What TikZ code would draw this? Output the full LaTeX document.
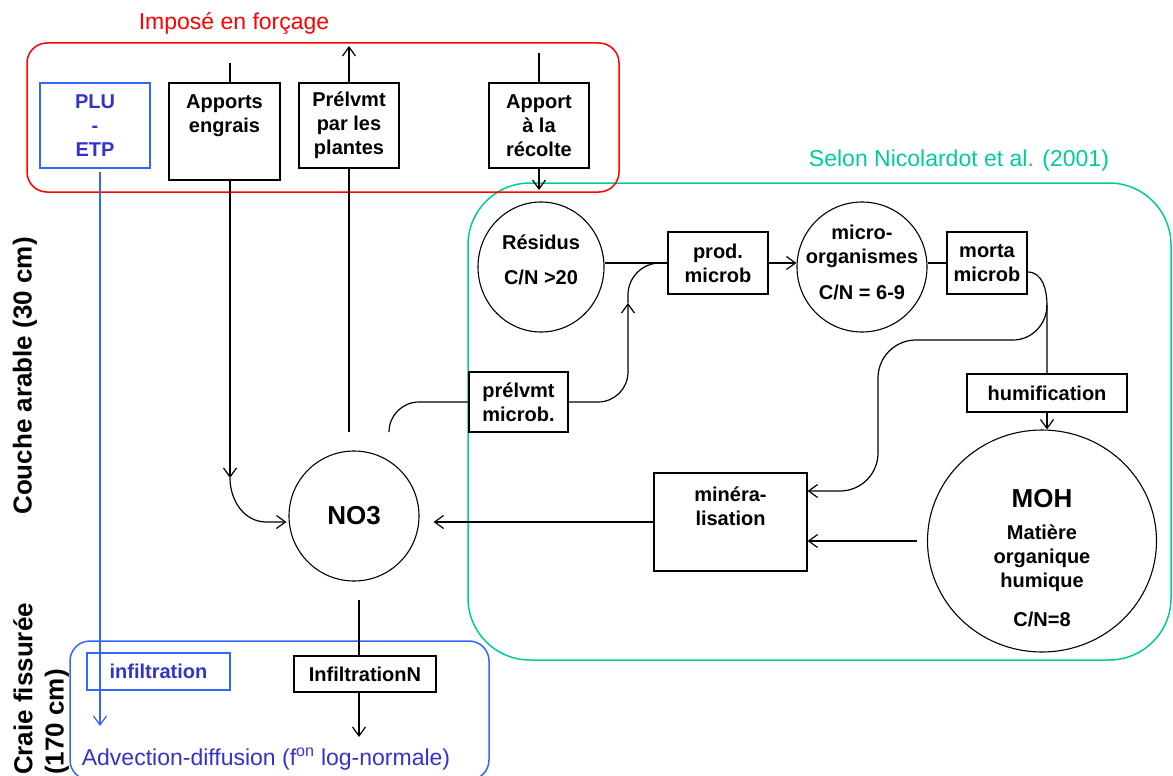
\documentclass[tikz,border=0pt]{standalone}
\usepackage{fontspec}
\setmainfont{Liberation Sans}
\usetikzlibrary{arrows.meta,shapes.geometric,calc}
\definecolor{fred}{RGB}{255,0,0}
\definecolor{fgreen}{RGB}{0,204,153}
\definecolor{fblue}{RGB}{51,102,255}
\definecolor{ftxtblue}{RGB}{51,51,204}
\begin{document}
\begin{tikzpicture}[x=1pt,y=-1pt,
  >={Straight Barb[length=9pt,width=13pt]},
  every node/.style={inner sep=0pt},
  bfont/.style={font=\bfseries\fontsize{20}{24}\selectfont},
  bx/.style={draw, line width=1.2pt, rectangle, align=center, bfont},
  bluebx/.style={draw=fblue, line width=1.2pt, rectangle, align=center, text=ftxtblue, bfont},
  circ/.style={draw, ellipse, line width=1.1pt},
  lbl/.style={align=center, bfont},
  conn/.style={line width=1.2pt},
  frame/.style={line width=1.5pt, rounded corners=20pt},
  side/.style={rotate=90, font=\bfseries\fontsize{26}{30}\selectfont},
  reg/.style={font=\fontsize{23}{28}\selectfont}
]
\useasboundingbox (0,0) rectangle (1173,776);

% frames
\draw[fgreen, line width=1.5pt, rounded corners=62pt] (468,183) rectangle (1171,660);
\draw[fred, frame] (27,43) rectangle (619,192);
\draw[fblue, frame] (70,641) rectangle (489,780);

% labels
\node[reg, text=fred] (titre) at (234,23) {Imposé en forçage};
\node[reg, text=fgreen] (selon) at (959,161) {Selon Nicolardot et al. (2001)};
\node[reg, text=ftxtblue] (adv) at (266,759) {Advection-diffusion (f\textsuperscript{on} log-normale)};
\node[side] (couche) at (25,376) {Couche arable (30 cm)};
\node[side] (craie) at (23,689) {Craie fissurée};
\node[side] (cm170) at (57,722) {(170 cm)};

% top boxes
\node[bluebx, minimum width=110pt, minimum height=85pt] (plu) at (95,125.5) {PLU\\-\\ETP};
\node[bx, minimum width=111pt, minimum height=97pt] (apports) at (224.5,131.5) {};
\node[lbl] (apportsT) at (224.5,116) {Apports\\engrais};
\node[bx, minimum width=100pt, minimum height=85pt] (prel) at (349,125.5) {Prélvmt\\par les\\plantes};
\node[bx, minimum width=100pt, minimum height=85pt] (apport) at (539,125.5) {Apport\\à la\\récolte};

% NO3 and flows
\node[circ, minimum width=130pt, minimum height=130pt, font=\bfseries\fontsize{26}{30}\selectfont] (no3) at (354,516) {NO3};
\node[bx, minimum width=99pt, minimum height=60pt] (pm) at (518.5,402) {prélvmt\\microb.};
\node[circ, minimum width=126pt, minimum height=130pt] (res) at (541,267) {};
\node[lbl] (resT) at (541,259.5) {Résidus\\[11pt]C/N >20};
\node[bx, minimum width=100pt, minimum height=62pt] (prod) at (718,263) {prod.\\microb};
\node[circ, minimum width=130pt, minimum height=130pt] (micro) at (862,267) {};
\node[lbl] (microT) at (862,262) {micro-\\organismes\\[12pt]C/N = 6-9};
\node[bx, minimum width=80pt, minimum height=62pt] (morta) at (987,263) {morta\\microb};
\node[bx, minimum width=160pt, minimum height=38pt] (humi) at (1047,393) {humification};
\node[circ, minimum width=229pt, minimum height=222pt] (moh) at (1042,541) {};
\node[lbl, font=\bfseries\fontsize{26}{30}\selectfont] (mohT) at (1042,499) {MOH};
\node[lbl] (mohT2) at (1042,558) {Matière\\organique\\humique};
\node[lbl] (mohT3) at (1042,619) {C/N=8};
\node[bx, minimum width=153pt, minimum height=98pt] (mine) at (730.5,522) {};
\node[lbl] (mineT) at (730.5,506) {minéra-\\lisation};

% bottom boxes
\node[bluebx, minimum width=143pt, minimum height=37pt] (infl) at (158.5,671.5) {infiltration};
\node[bx, minimum width=142pt, minimum height=36pt] (infN) at (365,674) {InfiltrationN};

% connectors: top
\coordinate (aTop) at (230,63);
\coordinate (aMid) at (230,478);
\coordinate (no3L) at ($(no3.west)+(-2,6)$);
\draw[conn] (aTop) -- (aTop |- apports.north);
\draw[conn,->] (aTop |- apports.south) -- (aMid);
\draw[conn,->] (aMid) to[out=-90,in=180] ($(no3L)+(-20,0)$) -- (no3L);

\coordinate (pTop) at (349,46);
\coordinate (pBot) at (349,432);
\draw[conn,->] (prel.north) -- (pTop);
\draw[conn] (prel.south) -- (pBot);

\coordinate (rTop) at (539,53);
\coordinate (rBot) at (539,190);
\draw[conn] (rTop) -- (apport.north);
\draw[conn,->] (apport.south) -- (rBot);

\coordinate (bTop) at (100,172);
\coordinate (bBot) at (100,726);
\draw[conn, fblue, ->] (bTop) -- (bBot);

% prelevement microbien
\coordinate (pmL) at (389,432);
\coordinate (pmA) at (628,303);
\draw[conn, rounded corners=30pt] (pm.west) -| (pmL);
\draw[conn, ->, rounded corners=30pt] (pm.east) -| (pmA);
\draw[conn, rounded corners=32pt] (pmA) |- (prod.west);

% chain
\draw[conn] (res.east |- prod.west) -- (prod.west);
\draw[conn,->] (prod.east) -- (prod.east -| micro.west);
\draw[conn] (morta.west -| micro.east) -- (morta.west);
\coordinate (mB) at (1047,305);
\coordinate (mC) at (1013,340);
\coordinate (mD) at (878,340);
\coordinate (mE) at (878,491);
\draw[conn] ($(morta.east)+(0,9)$) to[out=0,in=90] (mB) -- (humi.north);
\draw[conn,->] (mB) to[out=-90,in=0] (mC) [rounded corners=38pt] -- (mD) -- (mE) -- (mE -| mine.east);
\draw[conn,->] (humi.south) -- (humi.south |- moh.north);
\draw[conn,->] ($(moh.west)+(-10,0)$) -- (moh.west -| mine.east);
\coordinate (no3R) at ($(no3.east)+(14,6)$);
\draw[conn,->] (mine.west |- no3R) -- (no3R);

% bottom
\coordinate (nB) at (359,600);
\coordinate (iB) at (359,737);
\draw[conn] (nB) -- (nB |- infN.north);
\draw[conn,->] (nB |- infN.south) -- (iB);
\end{tikzpicture}
\end{document}
